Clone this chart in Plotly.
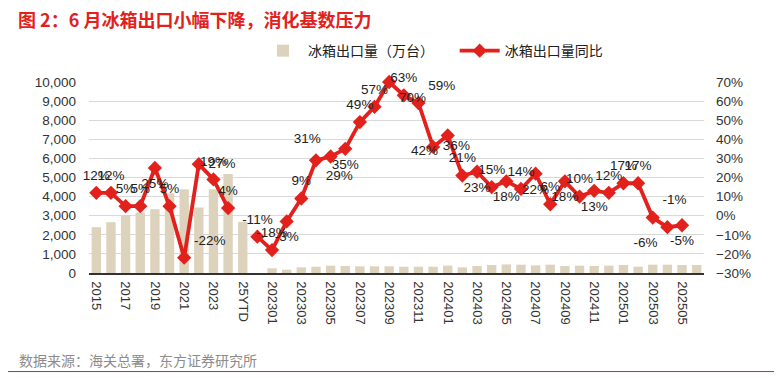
import plotly.graph_objects as go
from plotly.subplots import make_subplots

# ---------------- data ----------------
annual_cats = ["2015", "2016", "2017", "2018", "2019", "2020", "2021", "2022", "2023", "2024", "25YTD"]
gap_cat = [" "]
monthly_cats = [f"{y}{m:02d}" for y in (2023, 2024) for m in range(1, 13)] + [f"2025{m:02d}" for m in range(1, 7)]
categories = annual_cats + gap_cat + monthly_cats

# 冰箱出口量（万台）
annual_volume = [2400, 2660, 3030, 3170, 3340, 4170, 4380, 3430, 4380, 5180, 2680]
monthly_volume = [245, 175, 295, 330, 385, 365, 350, 350, 350, 330, 330, 330,
                  385, 295, 365, 420, 450, 435, 400, 435, 365, 385, 365, 385,
                  420, 330, 435, 435, 420, 420]
volume = annual_volume + [None] + monthly_volume

# 冰箱出口量同比（%），as plotted in the source chart
yoy = [12, 12, 5, 5, 25, 5, -22, 27, 19, 4, None,
       -11, -18, -3, 9, 29, 31, 35, 49, 57, 70, 63, 59, 36, 42, 21, 23,
       15, 18, 14, 22, 6, 18, 10, 13, 12, 17, 17, -1, -6, -5, None]

tick_labels = categories[0::2]

# ---------------- styling ----------------
label_pos = ["top center", "top center", "top center", "top center", "bottom center", "top center",
             "top right", "middle right", "top center", "top center", "top center",
             "top center", "top center", "bottom center", "top center", "bottom right", "top left",
             "bottom center", "top center", "top center", "bottom right", "top center", "top right",
             "middle right", "bottom left", "top center", "bottom center", "top center", "bottom center",
             "top center", "bottom center", "top center", "bottom center", "top center", "bottom center",
             "top center", "top center", "top center", "top right", "bottom left", "bottom center",
             "top center"]
yoy_text = [("" if v is None else f"{v}%") for v in yoy]

RED = "#E3211C"
BEIGE = "#DDD3BC"
NUM_FONT = "Liberation Sans, Arial, sans-serif"
CJK_FONT = "Noto Sans CJK SC, sans-serif"

fig = make_subplots(specs=[[{"secondary_y": True}]])

fig.add_trace(go.Bar(
    x=categories, y=volume, name="冰箱出口量（万台）" + "\u00a0" * 5,
    marker=dict(color=BEIGE, line=dict(width=0)),
), secondary_y=False)

fig.add_trace(go.Scatter(
    x=categories, y=yoy, name="冰箱出口量同比",
    mode="lines+markers",
    line=dict(color=RED, width=3.8),
    marker=dict(symbol="diamond", size=11, color=RED),
    connectgaps=False, cliponaxis=False,
), secondary_y=True)

# data labels (invisible larger markers give the labels a bit more clearance)
fig.add_trace(go.Scatter(
    x=categories, y=yoy, mode="markers+text", showlegend=False, hoverinfo="skip",
    marker=dict(size=14, color="rgba(0,0,0,0)"),
    text=yoy_text, textposition=label_pos,
    textfont=dict(family=NUM_FONT, size=13.5, color="#222222"),
    cliponaxis=False,
), secondary_y=True)

# page body adds an 8px offset; work in screen pixels and convert
OFF = 8
W, H = 782 - OFF, 378 - OFF
PL, PR, PT, PB = 89, 704, 82, 273.3       # plot area in screen pixels
L, R, T, B = PL - OFF, W - (PR - OFF), PT - OFF, H - (PB - OFF)
pw, ph = W - L - R, H - T - B

def px_x(px):
    return (px - PL) / pw

def px_y(py):
    return (PB - py) / ph

fig.update_layout(
    width=W, height=H,
    margin=dict(l=L, r=R, t=T, b=B, autoexpand=False),
    paper_bgcolor="white", plot_bgcolor="white",
    bargap=0.36,
    showlegend=True,
    legend=dict(orientation="h", x=px_x(258), y=px_y(51), xanchor="left", yanchor="middle",
                font=dict(family=CJK_FONT, size=14, color="#222222"),
                bgcolor="rgba(0,0,0,0)", itemwidth=40, traceorder="normal"),
    title=dict(text="<b>图 2：6 月冰箱出口小幅下降，消化基数压力</b>",
               x=(18 - OFF) / W, xanchor="left", xref="container",
               y=1 - (20.5 - OFF) / H, yanchor="middle", yref="container",
               font=dict(family=CJK_FONT, size=18, color=RED)),
    font=dict(family=NUM_FONT, size=13.5, color="#333333"),
)

fig.update_xaxes(
    type="category", categoryorder="array", categoryarray=categories,
    range=[-0.5, len(categories) - 0.5], domain=[0, 1],
    tickmode="array", tickvals=tick_labels, ticktext=tick_labels,
    tickangle=90, ticks="", showgrid=False, automargin=False, ticklabelstandoff=4,
    showline=True, linecolor="#333333", linewidth=1.5,
    tickfont=dict(family=NUM_FONT, size=13, color="#333333"),
)
fig.update_yaxes(
    range=[0, 10000], dtick=1000, tickformat=",", automargin=False,
    showgrid=True, gridcolor="#D9D9D9", gridwidth=1, zeroline=False, showline=False,
    tickfont=dict(family=NUM_FONT, size=13.5, color="#333333"), ticklabelstandoff=12,
    secondary_y=False,
)
fig.update_yaxes(
    range=[-30, 70], dtick=10, ticksuffix="%", automargin=False,
    showgrid=False, zeroline=False, showline=False,
    tickfont=dict(family=NUM_FONT, size=13.5, color="#333333"), ticklabelstandoff=11,
    secondary_y=True,
)

fig.add_annotation(
    text="数据来源：海关总署，东方证券研究所", xref="paper", yref="paper",
    x=px_x(17), y=px_y(360), xanchor="left", yanchor="middle", showarrow=False,
    font=dict(family=CJK_FONT, size=14, color="#8C8C8C"),
)
fig.add_shape(type="line", xref="paper", yref="paper",
              x0=px_x(6), x1=px_x(776), y0=px_y(6), y1=px_y(6),
              line=dict(color=RED, width=1))
fig.add_shape(type="line", xref="paper", yref="paper",
              x0=px_x(0), x1=px_x(776), y0=px_y(372), y1=px_y(372),
              line=dict(color=RED, width=1))

fig.write_html("out.html")
